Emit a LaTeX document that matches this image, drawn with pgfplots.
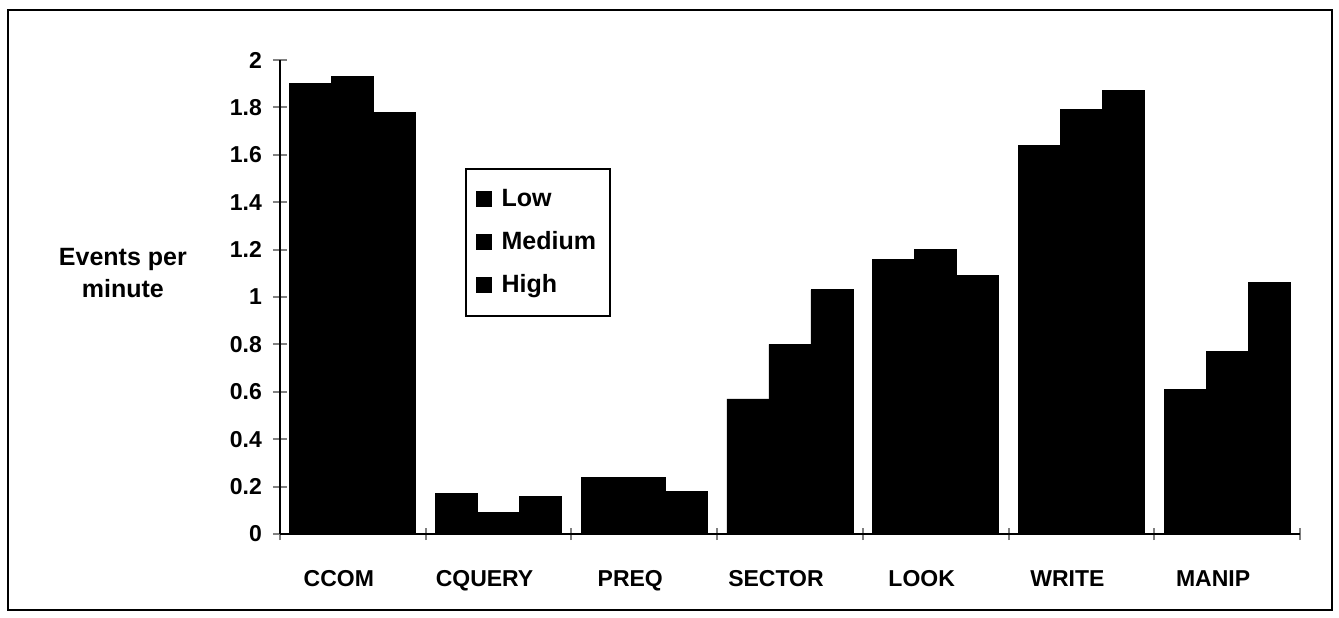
\documentclass[border=0pt]{standalone}
\usepackage{fontspec}
\setmainfont{Liberation Sans}
\usepackage{pgfplots}
\pgfplotsset{compat=1.18}

\begin{document}
\begin{tikzpicture}
\begin{axis}[
    scale only axis,
    width=510pt, height=237pt,
    ybar=0pt, bar width=21pt,
    ymin=0, ymax=2,
    ytick={0,0.2,...,2},
    yticklabels={0,0.2,0.4,0.6,0.8,1,1.2,1.4,1.6,1.8,2},
    xmin=-0.5, xmax=6.5,
    xtick={0,...,6},
    xticklabels={CCOM,CQUERY,PREQ,SECTOR,LOOK,WRITE,MANIP},
    minor xtick={-0.5,0.5,...,6.5},
    axis x line*=bottom, axis y line*=left,
    x axis line style={-, line width=1.2pt},
    y axis line style={-, line width=1.2pt},
    major x tick style={draw=none},
    minor x tick style={line width=1pt},
    minor tick length=6pt,
    major tick length=7pt,
    y tick style={line width=1pt},
    tick align=center,
    tick label style={font=\bfseries\fontsize{11.5}{13}\selectfont},
    y tick label style={xshift=-2pt},
    x tick label style={yshift=-10pt, xshift=-7pt, text height=9pt, text depth=2pt, anchor=north},
    /pgf/number format/assume math mode=true,
    ylabel={Events per\\minute},
    ylabel style={rotate=-90, align=center, font=\bfseries\fontsize{12.5}{16}\selectfont, at={(-0.154,0.55)}, anchor=center},
    legend style={at={(0.181,0.772)}, anchor=north west, draw=black, line width=1pt,
        font=\bfseries\fontsize{12.5}{14}\selectfont, row sep=7pt,
        inner xsep=5pt, inner ysep=8pt},
    legend image code/.code={\fill[black] (0pt,-3.5pt) rectangle (7pt,3.5pt); \path (10pt,0pt);},
    legend cell align=left,
]
\addplot[fill=black, draw=black] coordinates {(0,1.90) (1,0.17) (2,0.24) (3,0.57) (4,1.16) (5,1.64) (6,0.61)};
\addlegendentry{Low}
\addplot[fill=black, draw=black] coordinates {(0,1.93) (1,0.09) (2,0.24) (3,0.80) (4,1.20) (5,1.79) (6,0.77)};
\addlegendentry{Medium}
\addplot[fill=black, draw=black] coordinates {(0,1.78) (1,0.16) (2,0.18) (3,1.03) (4,1.09) (5,1.87) (6,1.06)};
\addlegendentry{High}
\end{axis}
\draw[line width=1.2pt] (-136pt,-38pt) rectangle (526pt,262pt);
\useasboundingbox (-140pt,-41.5pt) rectangle (529.5pt,267pt);
\end{tikzpicture}
\end{document}
